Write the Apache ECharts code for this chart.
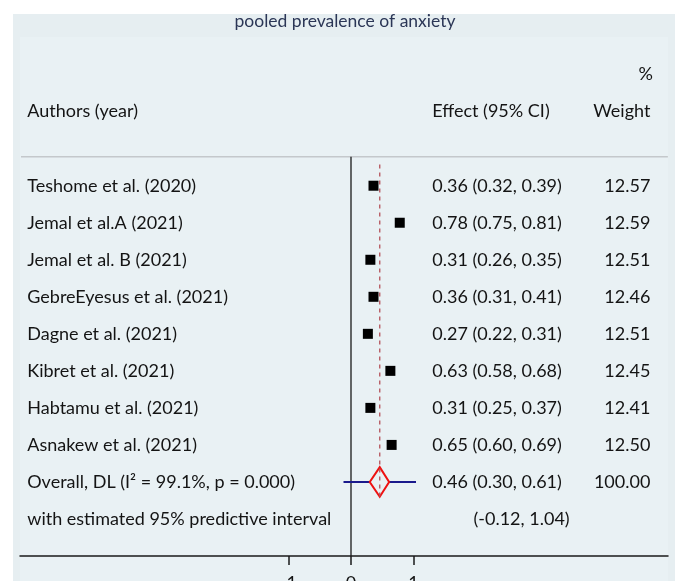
<!DOCTYPE html>
<html>
<head>
<meta charset="utf-8">
<script src="https://cdn.jsdelivr.net/npm/echarts@6/dist/echarts.min.js"></script>
<style>
html, body { margin: 0; padding: 0; background: #fff; }
#chart { width: 677px; height: 581px; }
</style>
</head>
<body>
<div id="chart"></div>
<script>
// study data
var authors = ['Teshome et al. (2020)', 'Jemal et al.A (2021)', 'Jemal et al. B (2021)', 'GebreEyesus et al. (2021)', 'Dagne et al. (2021)', 'Kibret et al. (2021)', 'Habtamu et al. (2021)', 'Asnakew et al. (2021)'];
var effect = [0.36, 0.78, 0.31, 0.36, 0.27, 0.63, 0.31, 0.65];
var lower = [0.32, 0.75, 0.26, 0.31, 0.22, 0.58, 0.25, 0.60];
var upper = [0.39, 0.81, 0.35, 0.41, 0.31, 0.68, 0.37, 0.69];
var weight = [12.57, 12.59, 12.51, 12.46, 12.51, 12.45, 12.41, 12.50];
// pooled estimate: effect, lower, upper
var overall = [0.46, 0.30, 0.61];
var overallWeight = 100;
var overallLabel = 'Overall, DL (I\u00b2 = 99.1%, p = 0.000)';
var predInterval = [-0.12, 1.04];
var predLabel = 'with estimated 95% predictive interval';
var tickValues = [-1, 0, 1];

var FONT = 'Lato';
var FS = 18;
var TXT = '#141414';
var authorX = -5.18, effectX = 1.3, weightX = 4.79;
var overallRow = authors.length + 1, predRow = authors.length + 2;

function fmt(v) { return v.toFixed(2); }
function ci(e, l, u) { return fmt(e) + ' (' + fmt(l) + ', ' + fmt(u) + ')'; }

// text cells: [x, row, text, align]
var cells = [
  [weightX + 0.04, -2, '%', 'right'],
  [authorX, -1, 'Authors (year)', 'left'],
  [effectX, -1, 'Effect (95% CI)', 'left'],
  [weightX, -1, 'Weight', 'right']
];
authors.forEach(function (a, i) {
  cells.push([authorX, i + 1, a, 'left']);
  cells.push([effectX, i + 1, ci(effect[i], lower[i], upper[i]), 'left']);
  cells.push([weightX, i + 1, fmt(weight[i]), 'right']);
});
cells.push([authorX, overallRow, overallLabel, 'left']);
cells.push([effectX, overallRow, ci(overall[0], overall[1], overall[2]), 'left']);
cells.push([weightX, overallRow, fmt(overallWeight), 'right']);
cells.push([authorX, predRow, predLabel, 'left']);
cells.push([effectX + 0.66, predRow, '(' + fmt(predInterval[0]) + ', ' + fmt(predInterval[1]) + ')', 'left']);

var points = effect.map(function (e, i) { return [e, i + 1]; });
var ciRows = effect.map(function (e, i) { return [lower[i], upper[i], i + 1]; });

var chart = echarts.init(document.getElementById('chart'));
var option = {
  backgroundColor: '#fff',
  animation: false,
  graphic: [
    { type: 'rect', z: -10, shape: { x: 13, y: 14, width: 662, height: 567 }, style: { fill: '#e6eef1' } },
    { type: 'rect', z: -9, shape: { x: 20, y: 37, width: 648, height: 544 }, style: { fill: '#e9f1f4' } },
    { type: 'text', x: 345, y: 21, style: { text: 'pooled prevalence of anxiety', fontFamily: FONT, fontSize: 17.5, fill: '#2b3656', align: 'center', verticalAlign: 'middle' } }
  ],
  grid: { left: 20, right: 9, top: 37.6, bottom: 25, outerBoundsMode: 'none' },
  xAxis: {
    type: 'value', min: -5.296, max: 5.072, position: 'bottom',
    splitLine: { show: false },
    axisLine: { onZero: false, lineStyle: { color: '#1a1a1a', width: 1.5 } },
    axisTick: { customValues: tickValues, length: 9, lineStyle: { color: '#1a1a1a', width: 1.5 } },
    axisLabel: { customValues: tickValues, margin: 18, fontFamily: FONT, fontSize: FS, color: TXT }
  },
  yAxis: { type: 'value', min: -3, max: 11, inverse: true, show: false },
  series: [
    { // header separator
      type: 'line', data: [[-5.28, 0.22], [5.07, 0.22]], symbol: 'none', silent: true,
      lineStyle: { color: '#c4c8cb', width: 1.5 }
    },
    { // null line
      type: 'line', data: [[0, 0.22], [0, 11]], symbol: 'none', silent: true,
      lineStyle: { color: '#1a1a1a', width: 1.3 }
    },
    { // CI lines
      type: 'custom', data: ciRows, silent: true,
      renderItem: function (params, api) {
        var a = api.coord([api.value(0), api.value(2)]);
        var b = api.coord([api.value(1), api.value(2)]);
        return { type: 'line', shape: { x1: a[0], y1: a[1], x2: b[0], y2: b[1] }, style: { stroke: '#000', lineWidth: 1 } };
      }
    },
    { // study markers
      type: 'scatter', data: points, symbol: 'rect', symbolSize: 10, silent: true, z: 3,
      itemStyle: { color: '#000', opacity: 1 }
    },
    { // predictive interval
      type: 'line', data: [[predInterval[0], overallRow], [predInterval[1], overallRow]], symbol: 'none', silent: true,
      lineStyle: { color: '#1a1a8c', width: 2 }
    },
    { // pooled diamond
      type: 'custom', data: [overall], silent: true, z: 4,
      renderItem: function (params, api) {
        var c = api.coord([api.value(0), overallRow]);
        var l = api.coord([api.value(1), overallRow]);
        var r = api.coord([api.value(2), overallRow]);
        var top = api.coord([api.value(0), overallRow - 0.4]);
        var bot = api.coord([api.value(0), overallRow + 0.4]);
        return {
          type: 'polygon',
          shape: { points: [[l[0], c[1]], [c[0], top[1]], [r[0], c[1]], [c[0], bot[1]]] },
          style: { fill: '#e9f1f4', stroke: '#ee1111', lineWidth: 2 }
        };
      }
    },
    { // pooled effect reference line
      type: 'line', data: [[overall[0], 0.43], [overall[0], 9.48]], symbol: 'none', silent: true, z: 5,
      lineStyle: { color: '#b4525a', width: 1.3, type: [4, 4] }
    },
    { // table text
      type: 'custom', data: cells, silent: true,
      renderItem: function (params, api) {
        var d = cells[params.dataIndex];
        var p = api.coord([d[0], d[1]]);
        return {
          type: 'text', x: p[0], y: p[1],
          style: { text: d[2], fontFamily: FONT, fontSize: FS, fill: TXT, align: d[3], verticalAlign: 'middle' }
        };
      }
    }
  ]
};
chart.setOption(option);
</script>
</body>
</html>
